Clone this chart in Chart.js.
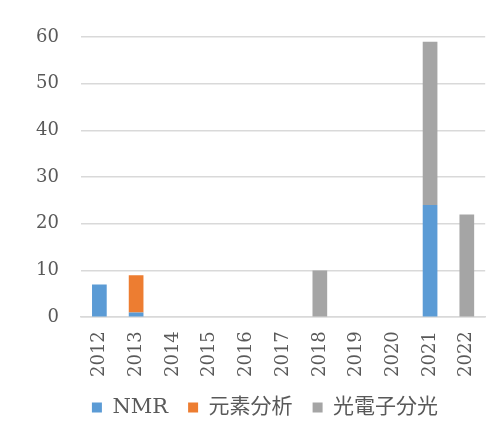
<!DOCTYPE html>
<html>
<head>
<meta charset="utf-8">
<script src="https://cdn.jsdelivr.net/npm/chart.js@4/dist/chart.umd.min.js"></script>
<style>
  html, body { margin: 0; padding: 0; background: #fff; }
  #wrap { width: 503px; height: 432px; }
</style>
</head>
<body>
<div id="wrap"><canvas id="chart"></canvas></div>
<script>
const years = ['2012', '2013', '2014', '2015', '2016', '2017', '2018', '2019', '2020', '2021', '2022'];
const nmr = [7, 1, 0, 0, 0, 0, 0, 0, 0, 24, 0];
const elemental = [0, 8, 0, 0, 0, 0, 0, 0, 0, 0, 0];
const xps = [0, 0, 0, 0, 0, 0, 10, 0, 0, 35, 22];
const seriesNames = ['NMR', '元素分析', '光電子分光'];
const colors = ['#5b9bd5', '#ed7d31', '#a5a5a5'];

const fontFamily = '"DejaVu Serif", "Noto Sans CJK JP", serif';
const textColor = '#595959';

// nudge the legend right so it sits where the original one does
const shiftLegend = {
  id: 'shiftLegend',
  afterLayout(chart) {
    chart.legend.left += 20;
    chart.legend.right += 20;
  },
};

new Chart(document.getElementById('chart'), {
  type: 'bar',
  data: {
    labels: years,
    datasets: [nmr, elemental, xps].map((vals, i) => ({
      label: seriesNames[i],
      data: vals,
      backgroundColor: colors[i],
      borderWidth: 0,
      categoryPercentage: 0.8,
      barPercentage: 0.5,
    })),
  },
  options: {
    responsive: true,
    maintainAspectRatio: false,
    animation: false,
    layout: { padding: { top: 37, right: 13, left: 0, bottom: 4 } },
    scales: {
      x: {
        stacked: true,
        afterFit: (axis) => { axis.height -= 14; },
        grid: { display: false, drawTicks: false },
        border: { color: '#d9d9d9', width: 1.5 },
        ticks: {
          minRotation: 90,
          maxRotation: 90,
          color: textColor,
          padding: 14,
          font: { family: fontFamily, size: 18 },
        },
      },
      y: {
        stacked: true,
        min: 0,
        max: 60,
        afterFit: (axis) => { axis.width = 81; },
        grid: { color: '#d9d9d9', lineWidth: 1.5, drawTicks: false },
        border: { display: false },
        ticks: {
          stepSize: 10,
          color: textColor,
          padding: 22,
          font: { family: fontFamily, size: 18 },
        },
      },
    },
    plugins: {
      legend: {
        position: 'bottom',
        labels: {
          boxWidth: 10,
          boxHeight: 10,
          padding: 20,
          color: textColor,
          font: { family: fontFamily, size: 21 },
        },
      },
      tooltip: { enabled: false },
    },
  },
  plugins: [shiftLegend],
});
</script>
</body>
</html>
